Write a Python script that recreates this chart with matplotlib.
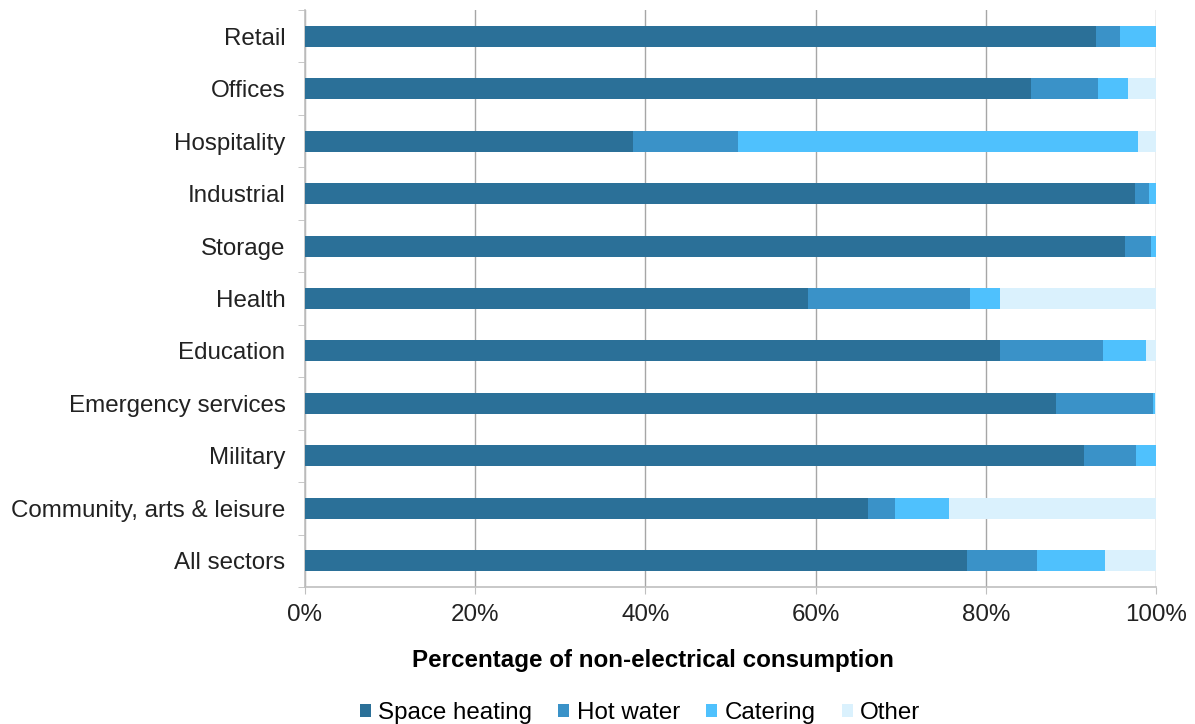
import matplotlib.pyplot as plt
from matplotlib.patches import Patch
import numpy as np

plt.rcParams['font.family'] = ['Liberation Sans', 'DejaVu Sans']

sectors = ['Retail', 'Offices', 'Hospitality', 'Industrial', 'Storage', 'Health',
           'Education', 'Emergency services', 'Military',
           'Community, arts & leisure', 'All sectors']
space_heating = [92.9, 85.3, 38.5, 97.5, 96.4, 59.1, 81.7, 88.2, 91.5, 66.2, 77.8]
hot_water = [2.9, 7.9, 12.4, 1.7, 3.0, 19.0, 12.1, 11.4, 6.1, 3.1, 8.2]
catering = [4.2, 3.5, 47.0, 0.8, 0.6, 3.6, 5.0, 0.3, 2.4, 6.4, 8.0]
other = [0.0, 3.3, 2.1, 0.0, 0.0, 18.3, 1.2, 0.1, 0.0, 24.3, 6.0]

series = [('Space heating', space_heating, '#2B7098'),
          ('Hot water', hot_water, '#3A92C8'),
          ('Catering', catering, '#4FC1FD'),
          ('Other', other, '#DAF1FD')]

fs = 17.4
fig = plt.figure(figsize=(11.95, 7.24), dpi=100)
ax = fig.add_axes([0.2552, 0.1892, 0.7122, 0.797])

y = np.arange(len(sectors))
left = np.zeros(len(sectors))
handles = []
for name, vals, col in series:
    vals = np.array(vals)
    ax.barh(y, vals, left=left, height=0.4, color=col, zorder=3)
    left += vals
    handles.append(Patch(facecolor=col, label=name))

ax.set_ylim(len(sectors) - 0.5, -0.5)
ax.set_xlim(0, 100)
ax.set_xticks(np.arange(0, 101, 20))
ax.set_xticklabels([f'{v}%' for v in range(0, 101, 20)], fontsize=fs, color='#222222')
ax.set_yticks(y)
ax.set_yticklabels(sectors, fontsize=fs, color='#222222')
ax.set_yticks(np.arange(-0.5, len(sectors), 1), minor=True)
ax.tick_params(axis='y', which='major', length=0, pad=14)
ax.tick_params(axis='y', which='minor', length=5, color='#BFBFBF', direction='out')
ax.tick_params(axis='x', length=5, color='#BFBFBF', direction='out', pad=7)
ax.grid(axis='x', color='#A6A6A6', linewidth=1, zorder=0)

for s in ['top', 'right']:
    ax.spines[s].set_visible(False)
for s in ['left', 'bottom']:
    ax.spines[s].set_color('#BFBFBF')
    ax.spines[s].set_linewidth(1.2)

ax.set_xlabel('Percentage of non-electrical consumption', fontsize=fs,
              fontweight='bold')
ax.xaxis.set_label_coords(0.409, -0.107)

fig.legend(handles=handles, loc='lower center', bbox_to_anchor=(0.5356, -0.03),
           ncol=4, frameon=False, fontsize=fs, handlelength=0.45, handleheight=0.45,
           handletextpad=0.3, columnspacing=1.1)

fig.savefig('out.png', dpi=100)
